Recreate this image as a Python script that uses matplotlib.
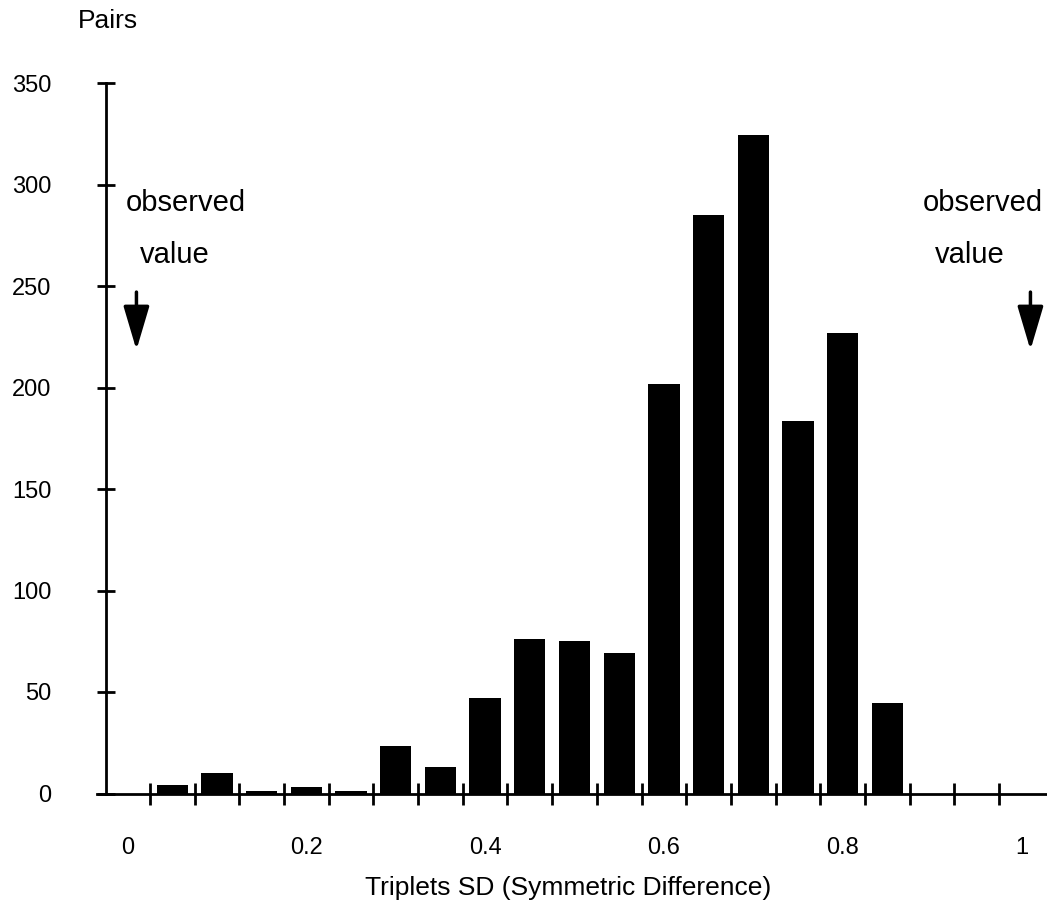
import matplotlib
matplotlib.use("Agg")
import matplotlib.pyplot as plt
import numpy as np

# ---- data ----
bin_centers = [0.0, 0.05, 0.10, 0.15, 0.20, 0.25, 0.30, 0.35, 0.40, 0.45, 0.50,
               0.55, 0.60, 0.65, 0.70, 0.75, 0.80, 0.85, 0.90, 0.95, 1.00]
pairs = [0, 4.4, 10.2, 1, 3.2, 1, 23.2, 12.9, 46.8, 76.1, 75.2,
         69, 201.6, 284.8, 324.2, 183.6, 227, 44.6, 0, 0, 0]
x_tick_labels = ["0", "0.2", "0.4", "0.6", "0.8", "1"]
x_tick_values = [0.0, 0.2, 0.4, 0.6, 0.8, 1.0]
y_ticks = [0, 50, 100, 150, 200, 250, 300, 350]
observed_values = [0.01, 1.01]

plt.rcParams['font.family'] = ['Liberation Sans', 'DejaVu Sans']

W, H = 1047, 905
fig = plt.figure(figsize=(W / 100, H / 100), dpi=100)
left_px, right_px = 97, 1047
top_px, bottom_px = 83, 793.5
ax = fig.add_axes([left_px / W, 1 - bottom_px / H, (right_px - left_px) / W,
                   (bottom_px - top_px) / H])

px_per_unit = 894.0
x0 = (left_px - 127.5) / px_per_unit
x1 = (right_px - 127.5) / px_per_unit
ax.set_xlim(x0, x1)
ax.set_ylim(0, 350)

ax.bar(bin_centers, pairs, width=0.035, color='black', zorder=3)

# spines
for s in ['top', 'right']:
    ax.spines[s].set_visible(False)
ax.spines['left'].set_position(('data', -0.024))
ax.spines['left'].set_linewidth(2.0)
ax.spines['bottom'].set_linewidth(2.0)
ax.spines['bottom'].set_zorder(4)

# y ticks
ax.set_yticks(y_ticks)
ax.set_yticklabels([str(v) for v in y_ticks])
ax.tick_params(axis='y', direction='inout', length=13, width=2.0,
               pad=33, labelsize=17)

# x ticks: bin boundaries as minor ticks, labels at bin centers
edges = np.array(bin_centers) - 0.025
ax.set_xticks(edges[1:], minor=True)
ax.set_xticks(x_tick_values)
ax.set_xticklabels(x_tick_labels)
ax.tick_params(axis='x', which='minor', direction='inout', length=16, width=2.0)
ax.tick_params(axis='x', which='major', length=0, pad=31, labelsize=17)
for t in ax.xaxis.get_minor_ticks():
    t.tick1line.set_clip_on(False)
for t in ax.yaxis.get_major_ticks():
    t.tick1line.set_clip_on(False)

# annotations: observed value arrows
text_props = dict(fontsize=21, va='baseline', ha='left')
ax.text(-0.0017, 287, "observed", **text_props)
ax.text(0.014, 261.5, "value", **text_props)
ax.text(0.890, 287, "observed", **text_props)
ax.text(0.903, 261.5, "value", **text_props)
for xv in observed_values:
    ax.annotate('', xy=(xv, 218.5), xytext=(xv, 247),
                arrowprops=dict(arrowstyle='-|>,head_length=27,head_width=8',
                                mutation_scale=1, lw=2.5, color='black',
                                shrinkA=0, shrinkB=0),
                annotation_clip=False)

fig.text(107.5 / W, 1 - 21 / H, "Pairs", fontsize=19, ha='center', va='center')
fig.text(568 / W, 1 - 888 / H, "Triplets SD (Symmetric Difference)",
         fontsize=19, ha='center', va='center')

fig.savefig("out.png", dpi=100)
